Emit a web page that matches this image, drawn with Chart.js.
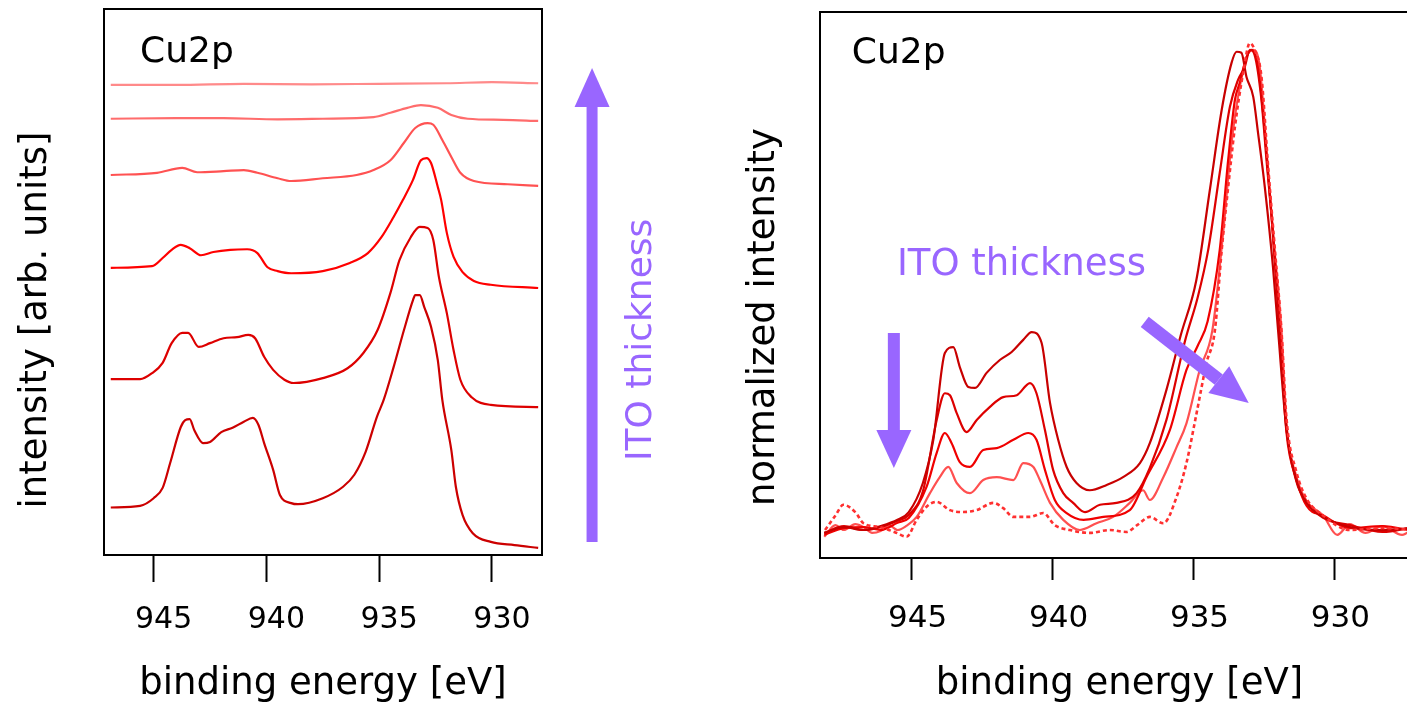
<!DOCTYPE html>
<html>
<head>
<meta charset="utf-8">
<script src="https://cdn.jsdelivr.net/npm/chart.js@4.4.1/dist/chart.umd.min.js"></script>
<style>
  body { margin: 0; background: #fff; overflow: hidden; width: 1407px; height: 707px; position: relative; }
  canvas { position: absolute; top: 0; }
  #graficoEsq { left: 0; }
  #graficoDir { left: 700px; }
</style>
</head>
<body>
<canvas id="graficoEsq" width="700" height="707"></canvas>
<canvas id="graficoDir" width="760" height="707"></canvas>
<script>
// Marcas do eixo de energia (eV)
const ticksEnergia = [930, 935, 940, 945];

// Painel esquerdo: espectros Cu2p deslocados (u.a.), de baixo para cima = ITO mais espesso
// cada par: [energia de ligação, intensidade]
const curvaEsq1 = [[946.9,8.7],[945.6,9.0],[945.0,10.4],[944.6,12.3],[944.27,16.8],[943.8,23.4],[943.6,24.7],[943.4,24.9],[943.2,22.9],[942.8,20.5],[942.5,20.7],[942.0,22.5],[941.5,23.3],[941.0,24.4],[940.6,25.1],[940.35,23.8],[940.1,20.5],[939.7,15.6],[939.4,11.0],[938.9,9.5],[938.6,9.3],[937.5,10.4],[936.6,12.5],[936.1,14.7],[935.6,18.9],[935.1,25.3],[934.8,28.4],[934.36,34.4],[933.9,41.2],[933.5,46.7],[933.4,47.6],[933.2,47.6],[933.0,45.4],[932.7,41.8],[932.4,35.7],[932.2,28.4],[931.8,19.2],[931.6,12.5],[931.3,7.3],[930.85,4.0],[930.05,2.4],[929.0,1.8],[927.95,1.3]];
const curvaEsq2 = [[946.9,32.2],[945.6,32.2],[945.07,33.3],[944.6,35.2],[944.2,38.8],[943.73,40.7],[943.47,40.7],[943.0,38.1],[942.5,38.8],[941.9,39.7],[941.3,39.9],[940.8,40.3],[940.5,39.7],[940.1,36.3],[939.7,33.9],[939.2,32.1],[938.8,31.5],[937.5,32.4],[936.4,34.2],[935.7,37.0],[935.07,41.2],[934.5,48.0],[934.1,54.0],[933.6,58.2],[933.2,60.1],[932.85,59.9],[932.6,57.7],[932.35,50.9],[932.0,44.3],[931.7,37.5],[931.4,32.1],[930.9,28.9],[930.05,27.5],[927.95,27.1]];
const curvaEsq3 = [[946.9,52.6],[945.07,52.9],[944.6,54.4],[944.2,55.9],[943.8,56.8],[943.4,56.2],[942.9,54.9],[942.35,55.5],[941.6,55.9],[940.85,56.0],[940.4,55.3],[939.95,52.7],[939.5,52.0],[938.9,51.6],[937.5,52.0],[936.3,53.5],[935.5,55.3],[934.9,58.2],[934.36,61.9],[933.95,65.0],[933.5,68.7],[933.15,72.3],[932.9,72.7],[932.7,71.8],[932.4,67.4],[932.25,65.0],[932.0,59.0],[931.7,54.6],[931.3,51.8],[930.8,50.2],[930.05,49.5],[927.95,48.9]];
const curvaEsq4 = [[946.9,69.6],[944.85,70.0],[943.73,70.9],[943.07,70.1],[941.9,70.3],[941.0,70.5],[940.4,70.0],[939.5,69.0],[938.9,68.5],[937.5,69.0],[936.0,69.6],[935.25,70.5],[934.5,72.3],[933.9,75.5],[933.4,78.2],[932.85,79.1],[932.6,78.8],[932.2,76.0],[931.8,72.9],[931.4,70.0],[930.8,68.5],[929.3,67.9],[927.95,67.6]];
const curvaEsq5 = [[946.9,79.9],[944.0,80.0],[941.9,80.0],[939.5,79.8],[937.5,79.9],[935.25,80.2],[934.5,81.0],[933.75,81.9],[933.15,82.4],[932.4,81.9],[931.8,80.6],[931.07,79.9],[929.5,79.7],[927.95,79.5]];
const curvaEsq6 = [[946.9,86.1],[944.0,86.1],[941.0,86.3],[938.0,86.2],[935.0,86.3],[932.0,86.4],[930.0,86.6],[927.95,86.4]];
const coresEsq = ['#cc0000', '#dd0000', '#ff0000', '#ff5252', '#ff6c6c', '#ff8a8a'];

// Painel direito: espectros normalizados (o tracejado é o ITO mais espesso)
const curvaDir1 = [[948.1,-0.006],[947.4,0.006],[946.7,0.0],[946.1,0.008],[945.5,0.021],[945.1,0.037],[944.6,0.097],[944.23,0.186],[943.82,0.365],[943.52,0.377],[943.29,0.336],[942.99,0.295],[942.75,0.293],[942.34,0.324],[941.86,0.351],[941.45,0.367],[941.04,0.392],[940.74,0.408],[940.39,0.386],[940.09,0.262],[939.8,0.186],[939.5,0.130],[939.15,0.097],[938.68,0.082],[938.08,0.093],[937.5,0.109],[936.9,0.138],[936.55,0.179],[935.96,0.289],[935.45,0.402],[934.9,0.515],[934.42,0.701],[934.0,0.866],[933.65,0.963],[933.47,0.986],[933.3,0.984],[933.12,0.934],[932.88,0.893],[932.71,0.819],[932.47,0.707],[932.18,0.542],[932.0,0.412],[931.7,0.206],[931.35,0.103],[930.99,0.056],[930.4,0.027],[929.45,0.006],[928.3,0.0],[927.2,0.004]];
const curvaDir2 = [[948.1,-0.006],[947.4,0.008],[946.7,0.0],[946.1,0.006],[945.5,0.019],[945.1,0.031],[944.59,0.082],[944.11,0.227],[943.82,0.282],[943.64,0.278],[943.4,0.241],[943.05,0.202],[942.69,0.227],[942.22,0.254],[941.75,0.274],[941.27,0.278],[940.8,0.303],[940.57,0.282],[940.27,0.206],[939.98,0.124],[939.62,0.076],[939.27,0.056],[938.85,0.037],[938.32,0.052],[937.73,0.056],[937.02,0.076],[936.55,0.128],[935.96,0.227],[935.3,0.39],[934.85,0.48],[934.48,0.577],[934.07,0.736],[933.71,0.872],[933.42,0.928],[933.18,0.955],[933.0,0.990],[932.83,0.979],[932.59,0.887],[932.41,0.763],[932.18,0.612],[931.94,0.412],[931.7,0.21],[931.35,0.10],[930.99,0.058],[930.4,0.025],[929.45,0.01],[928.3,-0.004],[927.2,0.006]];
const curvaDir3 = [[948.1,-0.01],[947.4,0.004],[946.7,0.006],[946.1,0.0],[945.5,0.015],[945.1,0.025],[944.47,0.089],[944.11,0.159],[943.82,0.2],[943.58,0.179],[943.29,0.140],[942.93,0.130],[942.46,0.165],[941.98,0.169],[941.39,0.186],[940.86,0.2],[940.57,0.186],[940.27,0.124],[939.92,0.062],[939.5,0.035],[938.9,0.021],[938.2,0.027],[937.26,0.041],[936.67,0.109],[935.84,0.206],[935.25,0.33],[934.85,0.38],[934.5,0.43],[934.07,0.577],[933.77,0.763],[933.53,0.887],[933.36,0.922],[933.12,0.975],[932.94,0.990],[932.71,0.955],[932.47,0.819],[932.23,0.645],[931.94,0.412],[931.7,0.2],[931.35,0.105],[930.99,0.05],[930.4,0.03],[929.45,0.004],[928.3,0.008],[927.2,-0.002]];
const curvaDir4 = [[948.1,-0.014],[947.7,0.01],[947.4,0.0],[947.0,0.012],[946.7,0.006],[946.4,-0.006],[946.1,-0.002],[945.8,0.01],[945.5,0.0],[945.2,0.008],[944.82,0.027],[944.35,0.076],[944.0,0.109],[943.7,0.130],[943.4,0.097],[942.93,0.076],[942.46,0.103],[941.98,0.109],[941.39,0.103],[941.04,0.138],[940.68,0.130],[940.45,0.103],[940.09,0.056],[939.62,0.021],[939.03,0.0],[938.44,0.014],[937.85,0.027],[937.26,0.056],[936.79,0.082],[936.55,0.062],[936.07,0.109],[935.6,0.171],[935.25,0.220],[934.78,0.330],[934.33,0.412],[933.95,0.612],[933.65,0.798],[933.36,0.913],[933.06,0.983],[932.88,0.990],[932.65,0.955],[932.41,0.784],[932.18,0.612],[931.88,0.412],[931.7,0.22],[931.35,0.11],[930.99,0.06],[930.4,0.03],[929.9,-0.01],[929.45,0.012],[928.9,-0.006],[928.3,0.008],[927.6,-0.01],[927.2,0.004]];
const curvaDir5 = [[948.07,0.0],[947.7,0.03],[947.42,0.052],[947.0,0.037],[946.71,0.014],[946.12,0.006],[945.53,-0.006],[945.18,-0.014],[944.82,0.021],[944.47,0.048],[944.11,0.058],[943.64,0.041],[943.17,0.037],[942.69,0.041],[942.1,0.056],[941.75,0.045],[941.39,0.027],[940.8,0.027],[940.33,0.035],[939.92,0.010],[939.39,0.0],[938.68,-0.006],[937.97,0.0],[937.38,-0.004],[937.0,0.01],[936.55,0.027],[936.07,0.014],[935.6,0.068],[935.25,0.138],[934.89,0.241],[934.54,0.344],[934.24,0.412],[934.0,0.577],[933.77,0.707],[933.53,0.831],[933.24,0.942],[933.0,1.004],[932.83,0.990],[932.59,0.935],[932.35,0.748],[932.11,0.577],[931.88,0.412],[931.7,0.23],[931.35,0.12],[930.99,0.065],[930.4,0.03],[929.45,0.0],[928.3,0.004],[927.2,0.0]];
const coresDir = ['#c80000', '#dd0000', '#f00000', '#ff5050', '#ff3030'];

const roxo = '#9966ff';
const fonte = "'DejaVu Sans', sans-serif";

// Desenha uma seta grossa (haste + cabeça triangular)
function desenharSeta(ctx, x1, y1, x2, y2, s) {
    const ang = Math.atan2(y2 - y1, x2 - x1);
    const bx = x2 - s.cabeca * Math.cos(ang);
    const by = y2 - s.cabeca * Math.sin(ang);
    ctx.strokeStyle = roxo;
    ctx.lineWidth = s.haste;
    ctx.lineCap = 'butt';
    ctx.beginPath();
    ctx.moveTo(x1, y1);
    ctx.lineTo(bx, by);
    ctx.stroke();
    const nx = -Math.sin(ang) * s.largura / 2;
    const ny = Math.cos(ang) * s.largura / 2;
    ctx.fillStyle = roxo;
    ctx.beginPath();
    ctx.moveTo(x2, y2);
    ctx.lineTo(bx + nx, by + ny);
    ctx.lineTo(bx - nx, by - ny);
    ctx.closePath();
    ctx.fill();
}

// Plugin: moldura, setas, textos e título do eixo y
const extras = {
    id: 'extras',
    afterDatasetsDraw(chart, args, opts) {
        const { ctx, chartArea: a, scales: { x, y } } = chart;
        ctx.save();

        // completa a moldura (topo e lado direito)
        ctx.strokeStyle = '#000';
        ctx.lineWidth = 2;
        ctx.beginPath();
        ctx.moveTo(a.left, a.top);
        ctx.lineTo(a.right, a.top);
        ctx.lineTo(a.right, a.bottom);
        ctx.stroke();

        (opts.setas || []).forEach(s => {
            desenharSeta(ctx,
                x.getPixelForValue(s.de[0]), y.getPixelForValue(s.de[1]),
                x.getPixelForValue(s.para[0]), y.getPixelForValue(s.para[1]), s);
        });

        (opts.textos || []).forEach(t => {
            ctx.save();
            ctx.translate(x.getPixelForValue(t.pos[0]), y.getPixelForValue(t.pos[1]));
            if (t.rotacao) ctx.rotate(t.rotacao * Math.PI / 180);
            ctx.font = `${t.tamanho}px ${fonte}`;
            ctx.fillStyle = t.cor;
            ctx.textAlign = t.alinhar;
            ctx.textBaseline = t.base || 'alphabetic';
            ctx.fillText(t.texto, 0, 0);
            ctx.restore();
        });

        // título do eixo y (fora do centro do eixo, como no original)
        const ty = opts.tituloY;
        if (ty) {
            ctx.save();
            ctx.translate(a.left + ty.dx, (a.top + a.bottom) / 2 + ty.dy);
            ctx.rotate(-Math.PI / 2);
            ctx.font = `37px ${fonte}`;
            ctx.fillStyle = '#000';
            ctx.textAlign = 'center';
            ctx.textBaseline = 'middle';
            ctx.fillText(ty.texto, 0, 0);
            ctx.restore();
        }
        ctx.restore();
    }
};

function montarGrafico(id, curvas, cores, cfg) {
    const datasets = curvas.map((c, i) => {
        const tracejado = cfg.tracejado === i;
        return {
            data: c.map(([e, v]) => ({ x: e, y: v })),
            borderColor: cores[i],
            borderWidth: tracejado ? 2.6 : 2.2,
            borderDash: tracejado ? [4, 3] : [],
            pointRadius: 0,
            cubicInterpolationMode: 'monotone',
            order: tracejado ? -1 : i
        };
    });

    return new Chart(document.getElementById(id), {
        type: 'line',
        data: { datasets },
        options: {
            responsive: false,
            animation: false,
            layout: { padding: cfg.padding },
            plugins: {
                legend: { display: false },
                tooltip: { enabled: false },
                extras: cfg.extras
            },
            scales: {
                x: {
                    type: 'linear',
                    reverse: true,
                    min: cfg.xMin,
                    max: cfg.xMax,
                    afterBuildTicks: s => { s.ticks = ticksEnergia.map(v => ({ value: v })); },
                    afterFit: s => { s.height = cfg.alturaX; },
                    ticks: {
                        font: { family: fonte, size: cfg.fonteTick },
                        color: '#000',
                        padding: cfg.padTick,
                        labelOffset: cfg.deslocRotulo,
                        maxRotation: 0,
                        autoSkip: false
                    },
                    grid: {
                        display: true,
                        drawOnChartArea: false,
                        drawTicks: true,
                        tickLength: cfg.tickLen,
                        tickWidth: 2,
                        tickColor: '#000'
                    },
                    border: { display: true, color: '#000', width: 2 },
                    title: {
                        display: true,
                        text: 'binding energy [eV]',
                        font: { family: fonte, size: 37 },
                        color: '#000',
                        padding: { top: 0, bottom: 0 }
                    }
                },
                y: {
                    min: cfg.yMin,
                    max: cfg.yMax,
                    afterFit: s => { s.width = cfg.larguraY; },
                    ticks: { display: false },
                    grid: { display: false },
                    border: { display: true, color: '#000', width: 2 }
                }
            }
        },
        plugins: [extras]
    });
}

montarGrafico('graficoEsq',
    [curvaEsq1, curvaEsq2, curvaEsq3, curvaEsq4, curvaEsq5, curvaEsq6], coresEsq, {
    padding: { top: 9, right: 158, left: 0, bottom: 0 },
    xMin: 927.78, xMax: 947.2, yMin: 0, yMax: 100,
    alturaX: 152, larguraY: 104,
    fonteTick: 30, padTick: 20, deslocRotulo: 10, tickLen: 27,
    extras: {
        setas: [{ de: [925.56, 2.4], para: [925.56, 89.2], cabeca: 39, largura: 35, haste: 11 }],
        textos: [
            { texto: 'Cu2p', pos: [945.6, 90.3], cor: '#000', tamanho: 36, alinhar: 'left' },
            { texto: 'ITO thickness', pos: [923.34, 39.4], cor: roxo, tamanho: 36, alinhar: 'center', base: 'middle', rotacao: -90 }
        ],
        tituloY: { texto: 'intensity [arb. units]', dx: -68, dy: 38 }
    }
});

montarGrafico('graficoDir',
    [curvaDir1, curvaDir2, curvaDir3, curvaDir4, curvaDir5], coresDir, {
    padding: { top: 12, right: 41, left: 0, bottom: 0 },
    xMin: 927.0, xMax: 948.25, yMin: -0.0577, yMax: 1.068,
    alturaX: 149, larguraY: 120,
    fonteTick: 31, padTick: 20, deslocRotulo: 6, tickLen: 22,
    tracejado: 4,
    extras: {
        setas: [
            { de: [945.63, 0.406], para: [945.63, 0.128], cabeca: 38, largura: 35, haste: 12 },
            { de: [936.73, 0.429], para: [933.04, 0.262], cabeca: 38, largura: 34, haste: 13 }
        ],
        textos: [
            { texto: 'Cu2p', pos: [947.12, 0.963], cor: '#000', tamanho: 36, alinhar: 'left' },
            { texto: 'ITO thickness', pos: [945.52, 0.526], cor: roxo, tamanho: 37, alinhar: 'left' }
        ],
        tituloY: { texto: 'normalized intensity', dx: -56, dy: 32 }
    }
});
</script>
</body>
</html>
